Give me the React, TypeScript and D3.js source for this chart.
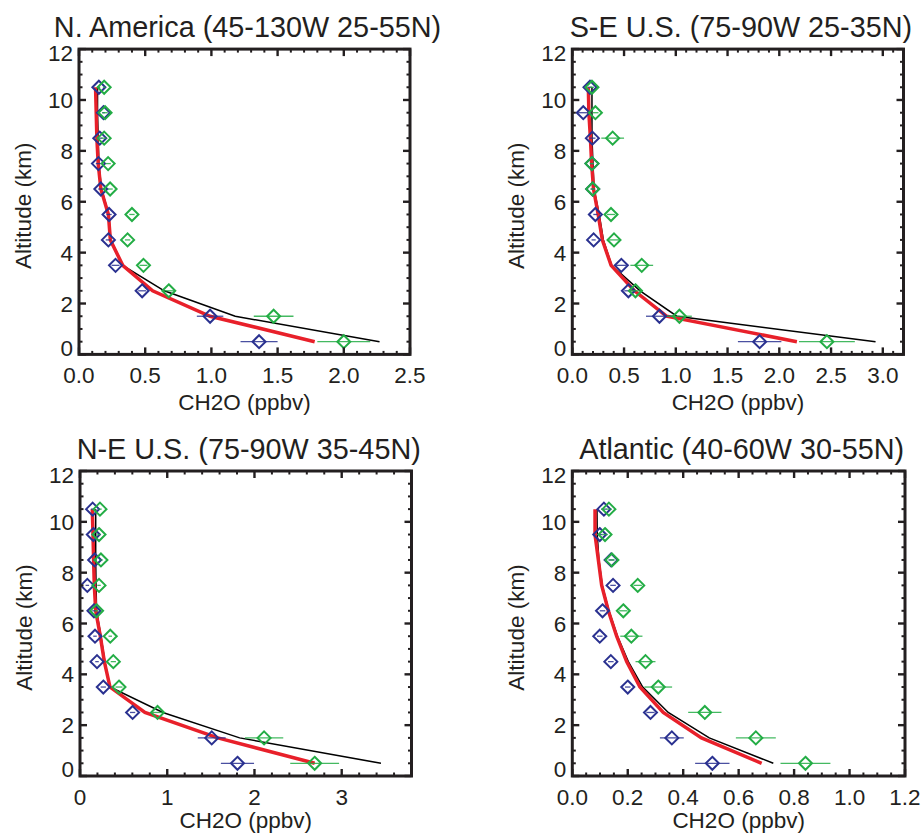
import React from "react";
import * as d3 from "d3";

const altitudes = [10.5, 9.5, 8.5, 7.5, 6.5, 5.5, 4.5, 3.5, 2.5, 1.5, 0.5];

// Panel 1: N. America
const naBlue = [0.15, 0.185, 0.157, 0.147, 0.165, 0.227, 0.222, 0.276, 0.477, 0.99, 1.36];
const naBlueErr = [0.01, 0.01, 0.02, 0.02, 0.02, 0.02, 0.02, 0.03, 0.03, 0.1, 0.14];
const naGreen = [0.19, 0.197, 0.19, 0.22, 0.235, 0.4, 0.367, 0.487, 0.678, 1.47, 2.0];
const naGreenErr = [0.01, 0.02, 0.02, 0.02, 0.02, 0.02, 0.02, 0.03, 0.05, 0.15, 0.2];
const naRed = [0.125, 0.13, 0.135, 0.145, 0.165, 0.222, 0.237, 0.33, 0.556, 0.99, 1.78];
const naBlack = [0.14, 0.14, 0.145, 0.15, 0.17, 0.225, 0.24, 0.33, 0.644, 1.18, 2.27];

// Panel 2: S-E U.S.
const seBlue = [0.171, 0.106, 0.194, 0.19, 0.197, 0.223, 0.206, 0.474, 0.542, 0.842, 1.81];
const seBlueErr = [0.02, 0.05, 0.03, 0.02, 0.02, 0.02, 0.02, 0.05, 0.04, 0.13, 0.21];
const seGreen = [0.19, 0.223, 0.39, 0.19, 0.197, 0.374, 0.403, 0.671, 0.61, 1.035, 2.46];
const seGreenErr = [0.02, 0.03, 0.11, 0.02, 0.02, 0.04, 0.05, 0.11, 0.07, 0.12, 0.27];
const seRed = [0.155, 0.16, 0.175, 0.187, 0.205, 0.25, 0.29, 0.375, 0.6, 0.91, 2.17];
const seBlack = [0.19, 0.19, 0.19, 0.2, 0.21, 0.26, 0.3, 0.38, 0.655, 1.01, 2.93];

// Panel 3: N-E U.S.
const neBlue = [0.145, 0.153, 0.168, 0.084, 0.16, 0.172, 0.195, 0.267, 0.603, 1.51, 1.805];
const neBlueErr = [0.02, 0.02, 0.02, 0.02, 0.02, 0.02, 0.02, 0.03, 0.03, 0.16, 0.19];
const neGreen = [0.229, 0.218, 0.24, 0.218, 0.19, 0.347, 0.382, 0.447, 0.889, 2.11, 2.69];
const neGreenErr = [0.02, 0.02, 0.02, 0.02, 0.02, 0.02, 0.03, 0.04, 0.06, 0.22, 0.28];
const neRed = [0.141, 0.149, 0.156, 0.164, 0.18, 0.233, 0.279, 0.344, 0.744, 1.58, 2.69];
const neBlack = [0.18, 0.18, 0.18, 0.184, 0.19, 0.24, 0.285, 0.344, 0.95, 1.83, 3.45];

// Panel 4: Atlantic
const atBlue = [0.114, 0.099, 0.14, 0.147, 0.109, 0.099, 0.139, 0.2, 0.282, 0.359, 0.505];
const atBlueErr = [0.01, 0.01, 0.01, 0.01, 0.01, 0.01, 0.01, 0.01, 0.015, 0.043, 0.062];
const atGreen = [0.132, 0.118, 0.143, 0.236, 0.184, 0.213, 0.264, 0.31, 0.478, 0.662, 0.841];
const atGreenErr = [0.01, 0.01, 0.01, 0.015, 0.015, 0.04, 0.036, 0.05, 0.06, 0.072, 0.09];
const atRed = [0.082, 0.082, 0.094, 0.106, 0.13, 0.16, 0.196, 0.244, 0.328, 0.466, 0.683];
const atBlack = [0.089, 0.09, 0.096, 0.108, 0.132, 0.163, 0.202, 0.254, 0.346, 0.494, 0.725];

const titles = [
  "N. America (45-130W 25-55N)",
  "S-E U.S. (75-90W 25-35N)",
  "N-E U.S. (75-90W 35-45N)",
  "Atlantic (40-60W 30-55N)",
];
const xMax = [2.5, 3.2, 3.8, 1.2];
const xMajorTicks = [
  [0, 0.5, 1.0, 1.5, 2.0, 2.5],
  [0, 0.5, 1.0, 1.5, 2.0, 2.5, 3.0],
  [0, 1, 2, 3],
  [0, 0.2, 0.4, 0.6, 0.8, 1.0, 1.2],
];
const xMinorStep = [0.1, 0.1, 0.2, 0.05];
const xTickFormat = [".1f", ".1f", "d", ".1f"];
const yMajorTicks = [0, 2, 4, 6, 8, 10, 12];
const yMinorStep = 0.5;
const xAxisTitle = "CH2O (ppbv)";
const yAxisTitle = "Altitude (km)";

const panelSeries = [
  { blue: naBlue, blueErr: naBlueErr, green: naGreen, greenErr: naGreenErr, red: naRed, black: naBlack },
  { blue: seBlue, blueErr: seBlueErr, green: seGreen, greenErr: seGreenErr, red: seRed, black: seBlack },
  { blue: neBlue, blueErr: neBlueErr, green: neGreen, greenErr: neGreenErr, red: neRed, black: neBlack },
  { blue: atBlue, blueErr: atBlueErr, green: atGreen, greenErr: atGreenErr, red: atRed, black: atBlack },
];

const BLUE = "#2a3190";
const GREEN = "#23ad45";
const RED = "#e8202a";
const FONT = "'Liberation Sans', Arial, Helvetica, sans-serif";

const layout = [
  { x0: 79, x1: 410, y0: 354.4, y1: 49.1 },
  { x0: 572.3, x1: 903.5, y0: 354.4, y1: 49.1 },
  { x0: 80, x1: 411.5, y0: 776, y1: 471 },
  { x0: 572.3, x1: 905, y0: 776, y1: 471 },
];

function Panel({ idx }: { idx: number }) {
  const L = layout[idx];
  const s = panelSeries[idx];
  const x = d3.scaleLinear().domain([0, xMax[idx]]).range([L.x0, L.x1]);
  const y = d3.scaleLinear().domain([0, 12]).range([L.y0, L.y1]);
  const fmt = d3.format(xTickFormat[idx]);
  const nMinor = Math.round(xMax[idx] / xMinorStep[idx]);
  const xMinor = d3.range(0, nMinor + 1).map((i) => i * xMinorStep[idx]);
  const yMinor = d3.range(0, 12 / yMinorStep + 1).map((i) => i * yMinorStep);
  const isMajorX = (v: number) => xMajorTicks[idx].some((m) => Math.abs(m - v) < 1e-6);
  const isMajorY = (v: number) => yMajorTicks.some((m) => Math.abs(m - v) < 1e-6);
  const line = d3
    .line<number>()
    .x((d) => x(d))
    .y((_, i) => y(altitudes[i]));
  const MAJ = 7;
  const MIN = 3.5;
  const diamond = (cx: number, cy: number, r: number) =>
    `M${cx},${cy - r}L${cx + r},${cy}L${cx},${cy + r}L${cx - r},${cy}Z`;
  const cx = (L.x0 + L.x1) / 2;
  const cy = (L.y0 + L.y1) / 2;

  const markers = (vals: number[], errs: number[], color: string, key: string) => (
    <g key={key}>
      {vals.map((v, i) => (
        <g key={i}>
          <line
            x1={x(v - errs[i])}
            x2={x(v + errs[i])}
            y1={y(altitudes[i])}
            y2={y(altitudes[i])}
            stroke={color}
            strokeWidth={1.3}
            strokeOpacity={0.85}
          />
          <path d={diamond(x(v), y(altitudes[i]), 6.5)} fill="none" stroke={color} strokeWidth={2} />
        </g>
      ))}
    </g>
  );

  return (
    <g>
      <text x={cx + 3} y={L.y1 - 12.5} textAnchor="middle" fontSize={28.8} fontFamily={FONT} fill="#231f20">
        {titles[idx]}
      </text>
      {/* lines */}
      <path d={line(s.black) || ""} fill="none" stroke="#000" strokeWidth={1.5} />
      <path d={line(s.red) || ""} fill="none" stroke={RED} strokeWidth={3.5} />
      {markers(s.blue, s.blueErr, BLUE, "b")}
      {markers(s.green, s.greenErr, GREEN, "g")}
      {/* ticks */}
      {xMinor.map((v, i) => {
        const len = isMajorX(v) ? MAJ : MIN;
        const sw = isMajorX(v) ? 2.4 : 2;
        return (
          <g key={"xt" + i}>
            <line x1={x(v)} x2={x(v)} y1={L.y0} y2={L.y0 - len} stroke="#231f20" strokeWidth={sw} />
            <line x1={x(v)} x2={x(v)} y1={L.y1} y2={L.y1 + len} stroke="#231f20" strokeWidth={sw} />
          </g>
        );
      })}
      {yMinor.map((v, i) => {
        const len = isMajorY(v) ? MAJ : MIN;
        const sw = isMajorY(v) ? 2.4 : 2;
        return (
          <g key={"yt" + i}>
            <line x1={L.x0} x2={L.x0 + len} y1={y(v)} y2={y(v)} stroke="#231f20" strokeWidth={sw} />
            <line x1={L.x1} x2={L.x1 - len} y1={y(v)} y2={y(v)} stroke="#231f20" strokeWidth={sw} />
          </g>
        );
      })}
      <rect x={L.x0} y={L.y1} width={L.x1 - L.x0} height={L.y0 - L.y1} fill="none" stroke="#231f20" strokeWidth={3} />
      {/* tick labels */}
      {xMajorTicks[idx].map((v, i) => (
        <text key={"xl" + i} x={x(v)} y={L.y0 + 29} textAnchor="middle" fontSize={22.5} fontFamily={FONT} fill="#231f20">
          {fmt(v)}
        </text>
      ))}
      {yMajorTicks.map((v, i) => {
        const shift = v === 0 ? -7 : v === 12 ? 4 : 0;
        return (
          <text
            key={"yl" + i}
            x={L.x0 - 6}
            y={y(v) + shift}
            dy="0.36em"
            textAnchor="end"
            fontSize={22.5}
            fontFamily={FONT}
            fill="#231f20"
          >
            {v}
          </text>
        );
      })}
      <text
        x={cx}
        y={Math.min(L.y0 + 56, 828)}
        textAnchor="middle"
        fontSize={22.5}
        fontFamily={FONT}
        fill="#231f20"
      >
        {xAxisTitle}
      </text>
      <text
        transform={`translate(${L.x0 - 56},${cy + 4}) rotate(-90)`}
        dy="0.36em"
        textAnchor="middle"
        fontSize={22.5}
        fontFamily={FONT}
        fill="#231f20"
      >
        {yAxisTitle}
      </text>
    </g>
  );
}

export default function App() {
  return (
    <svg
      width={921}
      height={835}
      style={{ position: "absolute", left: 0, top: 0, background: "#fff" }}
      xmlns="http://www.w3.org/2000/svg"
    >
      <rect width={921} height={835} fill="#fff" />
      {[0, 1, 2, 3].map((i) => (
        <Panel key={i} idx={i} />
      ))}
    </svg>
  );
}
